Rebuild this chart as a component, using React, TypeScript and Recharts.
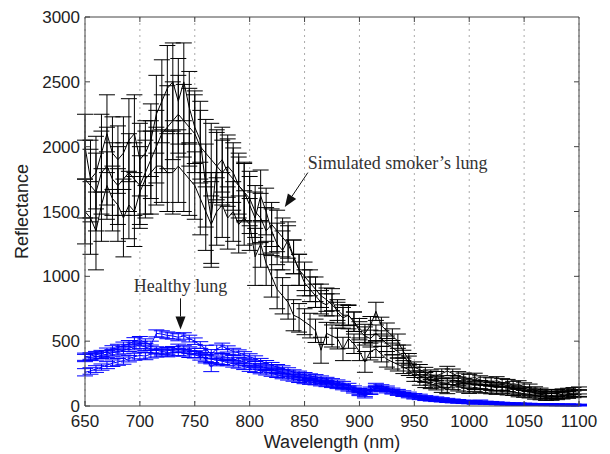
import React from "react";
import {
    LineChart,
    Line,
    XAxis,
    YAxis,
    CartesianGrid,
    ErrorBar,
    ReferenceLine,
} from "recharts";

// wavelength grid (nm)
const wavelengths = [
    650, 655, 660, 665, 670, 675, 680, 685, 690, 695,
    700, 705, 710, 715, 720, 725, 730, 735, 740, 745,
    750, 755, 760, 765, 770, 775, 780, 785, 790, 795,
    800, 805, 810, 815, 820, 825, 830, 835, 840, 845,
    850, 855, 860, 865, 870, 875, 880, 885, 890, 895,
    900, 905, 910, 915, 920, 925, 930, 935, 940, 945,
    950, 955, 960, 965, 970, 975, 980, 985, 990, 995,
    1000, 1005, 1010, 1015, 1020, 1025, 1030, 1035, 1040, 1045,
    1050, 1055, 1060, 1065, 1070, 1075, 1080, 1085, 1090, 1095,
    1100,
];

// simulated smoker's lung, three measurements
const smoker1 = [
    2000, 1750, 1800, 1950, 2100, 1950, 1900, 1950, 2050, 2100,
    1900, 1950, 2050, 2250, 2350, 2450, 2500, 2350, 2500, 2300,
    2150, 2050, 1700, 1450, 1850, 1900, 1800, 1750, 1700, 1650,
    1550, 1450, 1620, 1500, 1350, 1250, 1200, 1280, 1150, 1050,
    1000, 950, 900, 850, 820, 780, 740, 700, 700, 650,
    600, 560, 620, 730, 620, 580, 540, 500, 420, 360,
    300, 280, 260, 240, 230, 250, 270, 250, 230, 220,
    210, 220, 200, 190, 185, 195, 180, 175, 160, 165,
    150, 140, 120, 110, 100, 95, 100, 105, 110, 115,
    120,
];
const smoker1Err = [
    250, 300, 280, 300, 300, 280, 260, 280, 320, 300,
    280, 250, 280, 300, 320, 330, 300, 330, 300, 280,
    280, 300, 320, 350, 280, 250, 260, 240, 250, 230,
    220, 200, 200, 180, 170, 160, 150, 140, 130, 120,
    110, 100, 95, 90, 90, 85, 80, 80, 80, 75,
    75, 70, 70, 70, 65, 60, 55, 55, 50, 45,
    40, 40, 38, 38, 36, 36, 36, 35, 35, 34,
    34, 33, 33, 32, 32, 31, 31, 30, 30, 30,
    29, 29, 28, 28, 28, 28, 27, 27, 27, 27,
    27,
];
const smoker2 = [
    1750, 1700, 1650, 1800, 1850, 1750, 1700, 1750, 1800, 1750,
    1700, 1800, 1900, 2000, 2100, 2150, 2200, 2250, 2200, 2150,
    2100, 2000, 1950, 1900, 1850, 1800, 1850, 1800, 1700, 1650,
    1600, 1500, 1450, 1350, 1400, 1350, 1300, 1250, 1150, 1050,
    950, 900, 850, 800, 780, 820, 720, 680, 700, 650,
    580, 540, 520, 560, 520, 480, 450, 420, 380, 340,
    260, 230, 220, 200, 190, 180, 175, 200, 190, 180,
    170, 160, 165, 160, 150, 140, 150, 140, 130, 120,
    115, 110, 100, 90, 85, 80, 85, 90, 95, 100,
    100,
];
const smoker2Err = [
    300, 280, 300, 320, 300, 280, 300, 280, 300, 280,
    300, 320, 300, 280, 300, 320, 300, 300, 280, 300,
    300, 280, 260, 280, 260, 250, 240, 230, 220, 220,
    210, 200, 190, 180, 170, 160, 150, 140, 130, 120,
    100, 95, 90, 90, 85, 85, 80, 80, 75, 75,
    70, 70, 65, 65, 60, 60, 55, 50, 50, 45,
    40, 40, 38, 38, 36, 36, 35, 35, 34, 34,
    33, 33, 32, 32, 31, 31, 30, 30, 30, 29,
    29, 28, 28, 28, 27, 27, 27, 27, 26, 26,
    26,
];
const smoker3 = [
    1500, 1450, 1350, 1550, 1700, 1600, 1550, 1450, 1550, 1500,
    1650, 1750, 1800, 1850, 1850, 1800, 1800, 1850, 1800, 1750,
    1700, 1600, 1500, 1400, 1500, 1550, 1450, 1500, 1400, 1450,
    1400, 1150, 1250, 1100, 1000, 900, 850, 800, 700, 680,
    650, 620, 580, 430, 560, 540, 520, 440, 520, 480,
    420, 340, 420, 440, 400, 360, 340, 320, 300, 280,
    230, 200, 180, 170, 160, 140, 130, 160, 150, 140,
    130, 145, 135, 130, 125, 120, 125, 115, 110, 100,
    95, 90, 80, 75, 70, 70, 75, 80, 85, 90,
    95,
];
const smoker3Err = [
    250, 280, 300, 280, 260, 250, 280, 300, 260, 270,
    280, 300, 320, 300, 280, 300, 320, 280, 300, 280,
    260, 280, 300, 330, 260, 250, 240, 230, 220, 210,
    200, 220, 180, 170, 160, 150, 140, 130, 120, 110,
    100, 95, 90, 100, 85, 85, 80, 90, 75, 75,
    70, 80, 65, 65, 60, 60, 55, 50, 50, 45,
    40, 40, 38, 36, 36, 35, 35, 34, 34, 33,
    33, 32, 32, 31, 31, 30, 30, 30, 29, 29,
    28, 28, 27, 27, 27, 26, 26, 26, 26, 26,
    26,
];

// healthy lung, three measurements
const healthy1 = [
    380, 385, 395, 405, 420, 440, 450, 465, 480, 500,
    510, 490, 470, 560, 555, 545, 540, 530, 540, 520,
    500, 470, 440, 400, 440, 460, 440, 420, 410, 395,
    380, 365, 345, 330, 315, 300, 290, 275, 260, 250,
    240, 230, 225, 215, 205, 195, 185, 175, 160, 140,
    120, 110, 130, 160, 150, 140, 125, 115, 105, 95,
    85, 80, 70, 65, 60, 55, 50, 45, 42, 38,
    35, 33, 38, 30, 28, 25, 22, 20, 18, 18,
    16, 15, 14, 13, 12, 12, 11, 10, 10, 9,
    9,
];
const healthy2 = [
    370, 375, 380, 390, 400, 410, 420, 430, 445, 460,
    470, 455, 440, 430, 420, 425, 435, 450, 440, 430,
    420, 400, 360, 300, 340, 380, 375, 365, 350, 340,
    330, 320, 305, 295, 280, 270, 260, 250, 235, 225,
    215, 205, 200, 190, 180, 170, 160, 150, 140, 125,
    105, 90, 115, 145, 135, 125, 112, 100, 92, 82,
    72, 65, 58, 52, 48, 44, 40, 36, 33, 30,
    28, 26, 30, 24, 22, 20, 18, 16, 15, 14,
    13, 12, 11, 10, 10, 9, 9, 8, 8, 8,
    7,
];
const healthy3 = [
    260, 270, 285, 300, 315, 330, 340, 350, 365, 380,
    390, 385, 400, 405, 410, 405, 410, 415, 410, 400,
    395, 380, 370, 360, 355, 345, 335, 325, 315, 305,
    290, 280, 270, 260, 250, 240, 230, 220, 210, 200,
    190, 185, 180, 172, 165, 158, 150, 140, 130, 115,
    95, 80, 105, 135, 125, 115, 105, 95, 85, 75,
    65, 60, 52, 48, 44, 40, 36, 33, 30, 27,
    25, 22, 26, 20, 18, 17, 15, 14, 13, 12,
    11, 10, 9, 9, 8, 8, 7, 7, 7, 6,
    6,
];
const healthyErr = [
    28, 25, 26, 24, 27, 25, 26, 28, 25, 27,
    26, 28, 30, 27, 25, 26, 24, 27, 25, 26,
    25, 26, 28, 35, 30, 25, 24, 25, 23, 24,
    23, 22, 22, 21, 21, 20, 20, 20, 19, 19,
    18, 18, 17, 17, 16, 16, 16, 15, 15, 15,
    15, 18, 16, 15, 14, 14, 13, 13, 12, 12,
    11, 11, 10, 10, 10, 9, 9, 9, 8, 8,
    8, 8, 8, 7, 7, 7, 7, 6, 6, 6,
    6, 6, 5, 5, 5, 5, 5, 5, 5, 5,
    5,
];

const xTicks = [650, 700, 750, 800, 850, 900, 950, 1000, 1050, 1100];
const yTicks = [0, 500, 1000, 1500, 2000, 2500, 3000];

const data = wavelengths.map((nm, i) => ({
    nm,
    s1: smoker1[i],
    s1e: smoker1Err[i],
    s2: smoker2[i],
    s2e: smoker2Err[i],
    s3: smoker3[i],
    s3e: smoker3Err[i],
    h1: healthy1[i],
    h2: healthy2[i],
    h3: healthy3[i],
    he: healthyErr[i],
}));

const sansFont = "'Liberation Sans', Arial, sans-serif";
const serifFont = "'Liberation Serif', 'Times New Roman', serif";
const axisColor = "#444";
const tickStyle = { fontSize: 17, fill: "#222", fontFamily: sansFont };
const chartMargin = { top: 17, right: 31, bottom: 0, left: 25 };

const arrowShape = (text: string, anchor: "start" | "middle", dx: number, dy: number) =>
    (props: any) => {
        const { x1, y1, x2, y2 } = props;
        const ang = Math.atan2(y2 - y1, x2 - x1);
        const len = 13;
        const hw = 5;
        const bx = x2 - len * Math.cos(ang);
        const by = y2 - len * Math.sin(ang);
        const px = -Math.sin(ang) * hw;
        const py = Math.cos(ang) * hw;
        return (
            <g>
                <line x1={x1} y1={y1} x2={bx} y2={by} stroke="#111" strokeWidth={1} />
                <polygon
                    points={`${x2},${y2} ${bx + px},${by + py} ${bx - px},${by - py}`}
                    fill="#111"
                />
                <text
                    x={x1 + dx}
                    y={y1 + dy}
                    textAnchor={anchor}
                    fontSize={18}
                    fontFamily={serifFont}
                    fill="#333"
                >
                    {text}
                </text>
            </g>
        );
    };

// inward tick on the top edge
const topTick = (props: any) => {
    const { x1, y1, y2 } = props;
    const top = Math.min(y1, y2);
    return <line x1={x1} y1={top} x2={x1} y2={top + 5} stroke={axisColor} strokeWidth={1} />;
};
// inward tick on the right edge
const rightTick = (props: any) => {
    const { x1, x2, y1 } = props;
    const right = Math.max(x1, x2);
    return <line x1={right} y1={y1} x2={right - 5} y2={y1} stroke={axisColor} strokeWidth={1} />;
};

// top + right edges of the box, drawn on a transparent chart with the same scales
function Frame() {
    return (
        <LineChart width={610} height={454} data={data} margin={chartMargin}>
            <XAxis
                type="number"
                dataKey="nm"
                domain={[650, 1100]}
                ticks={xTicks}
                height={48}
                tick={false}
                tickLine={false}
                axisLine={false}
            />
            <YAxis
                domain={[0, 3000]}
                ticks={yTicks}
                width={60}
                tick={false}
                tickLine={false}
                axisLine={false}
            />
            <ReferenceLine y={3000} stroke={axisColor} strokeWidth={1} ifOverflow="visible" />
            <ReferenceLine x={1100} stroke={axisColor} strokeWidth={1} ifOverflow="visible" />
            {xTicks.slice(1, -1).map((t) => (
                <ReferenceLine key={"tx" + t} x={t} shape={topTick} ifOverflow="visible" />
            ))}
            {yTicks.slice(1, -1).map((t) => (
                <ReferenceLine key={"ty" + t} y={t} shape={rightTick} ifOverflow="visible" />
            ))}
            <Line dataKey="h3" stroke="none" dot={false} isAnimationActive={false} />
        </LineChart>
    );
}

export default function App() {
    return (
        <div style={{ position: "absolute", left: 0, top: 0, width: 610, height: 454, background: "#fff" }}>
            <div style={{ position: "absolute", left: 0, top: 0 }}>
                <LineChart width={610} height={454} data={data} margin={chartMargin}>
                    <CartesianGrid
                        horizontal={false}
                        stroke="#aaa"
                        strokeDasharray="2 4"
                    />
                    <XAxis
                        type="number"
                        dataKey="nm"
                        domain={[650, 1100]}
                        ticks={xTicks}
                        height={48}
                        tickSize={-5}
                        tickMargin={14}
                        tick={tickStyle}
                        stroke={axisColor}
                        label={{
                            value: "Wavelength (nm)",
                            position: "insideBottom",
                            offset: 6,
                            fontSize: 18,
                            fill: "#222",
                            fontFamily: sansFont,
                        }}
                    />
                    <YAxis
                        domain={[0, 3000]}
                        ticks={yTicks}
                        width={60}
                        tickSize={-5}
                        tickMargin={10}
                        tick={tickStyle}
                        stroke={axisColor}
                        label={{
                            value: "Reflectance",
                            angle: -90,
                            position: "insideLeft",
                            offset: -3,
                            fontSize: 18,
                            fill: "#222",
                            fontFamily: sansFont,
                            style: { textAnchor: "middle" },
                        }}
                    />

                    <Line dataKey="s1" stroke="#000" strokeWidth={1} dot={false} isAnimationActive={false}>
                        <ErrorBar dataKey="s1e" direction="y" width={8} stroke="#000" strokeWidth={1} isAnimationActive={false} />
                    </Line>
                    <Line dataKey="s2" stroke="#000" strokeWidth={1} dot={false} isAnimationActive={false}>
                        <ErrorBar dataKey="s2e" direction="y" width={8} stroke="#000" strokeWidth={1} isAnimationActive={false} />
                    </Line>
                    <Line dataKey="s3" stroke="#000" strokeWidth={1} dot={false} isAnimationActive={false}>
                        <ErrorBar dataKey="s3e" direction="y" width={8} stroke="#000" strokeWidth={1} isAnimationActive={false} />
                    </Line>
                    <Line dataKey="h1" stroke="#0000ff" strokeWidth={1} dot={false} isAnimationActive={false}>
                        <ErrorBar dataKey="he" direction="y" width={8} stroke="#0000ff" strokeWidth={1} isAnimationActive={false} />
                    </Line>
                    <Line dataKey="h2" stroke="#0000ff" strokeWidth={1} dot={false} isAnimationActive={false}>
                        <ErrorBar dataKey="he" direction="y" width={8} stroke="#0000ff" strokeWidth={1} isAnimationActive={false} />
                    </Line>
                    <Line dataKey="h3" stroke="#0000ff" strokeWidth={1} dot={false} isAnimationActive={false}>
                        <ErrorBar dataKey="he" direction="y" width={8} stroke="#0000ff" strokeWidth={1} isAnimationActive={false} />
                    </Line>

                    <ReferenceLine
                        segment={[{ x: 853, y: 1800 }, { x: 832, y: 1535 }]}
                        shape={arrowShape("Simulated smoker\u2019s lung", "start", 0, -4)}
                        ifOverflow="visible"
                    />
                    <ReferenceLine
                        segment={[{ x: 737, y: 830 }, { x: 737, y: 590 }]}
                        shape={arrowShape("Healthy lung", "middle", 0, -6)}
                        ifOverflow="visible"
                    />
                </LineChart>
            </div>
            <div style={{ position: "absolute", left: 0, top: 0, pointerEvents: "none" }}>
                <Frame />
            </div>
        </div>
    );
}
